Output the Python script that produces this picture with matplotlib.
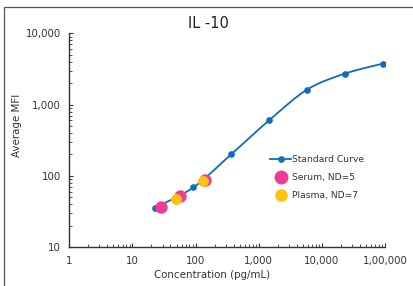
import numpy as np
import matplotlib
matplotlib.use("Agg")
import matplotlib.pyplot as plt
from matplotlib.path import Path
from matplotlib.patches import PathPatch, Rectangle
from matplotlib.lines import Line2D
from matplotlib.ticker import FixedLocator, FixedFormatter, LogLocator, NullFormatter

# Data
std_conc = [23, 92, 366, 1465, 5860, 23440, 93750]
std_mfi = [36, 69, 201, 604, 1629, 2730, 3770]
serum_conc = [28.4, 56.8, 141]
serum_mfi = [36.7, 51.9, 87.1]
plasma_conc = [49.1, 133]
plasma_mfi = [47.6, 85.9]
x_ticks = [1, 10, 100, 1000, 10000, 100000]
x_labels = ["1", "10", "100", "1,000", "10,000", "1,00,000"]
y_ticks = [10, 100, 1000, 10000]
y_labels = ["10", "100", "1,000", "10,000"]

blue = "#0F6CBD"
pink = "#EC3C97"
gold = "#FFC20E"
fs = 7.4
lfs = 6.6

fig = plt.figure(figsize=(4.13, 2.86), dpi=100)
W, H = 413, 286
fig.patches.append(Rectangle((4 / W, -0.1), 1.2, 1 - 7 / H + 0.1, transform=fig.transFigure,
                             fill=False, edgecolor="#555555", linewidth=0.9))
ax = fig.add_axes([69.3 / W, 1 - 247.3 / H, (385 - 69.3) / W, (247.3 - 33.3) / H])
ax.set_xscale("log")
ax.set_yscale("log")
ax.set_xlim(1, 100000)
ax.set_ylim(10, 10000)

# Smooth curve (Catmull-Rom in log space -> cubic Bezier)
lx = np.log10(std_conc)
ly = np.log10(std_mfi)
n = len(lx)
verts = [(std_conc[0], std_mfi[0])]
codes = [Path.MOVETO]
for i in range(n - 1):
    p0 = np.array([lx[max(i - 1, 0)], ly[max(i - 1, 0)]])
    p1 = np.array([lx[i], ly[i]])
    p2 = np.array([lx[i + 1], ly[i + 1]])
    p3 = np.array([lx[min(i + 2, n - 1)], ly[min(i + 2, n - 1)]])
    c1 = p1 + (p2 - p0) / 6.0
    c2 = p2 - (p3 - p1) / 6.0
    for c in (c1, c2, p2):
        verts.append((10 ** c[0], 10 ** c[1]))
        codes.append(Path.CURVE4)
ax.add_patch(PathPatch(Path(verts, codes), fill=False, edgecolor=blue, linewidth=1.3, zorder=2))
ax.plot(std_conc, std_mfi, linestyle="none", marker="o", markersize=3.8, color=blue, zorder=3)

ax.scatter(serum_conc, serum_mfi, s=80, color=pink, zorder=4, linewidths=0)
ax.scatter(plasma_conc, plasma_mfi, s=62, color=gold, zorder=5, linewidths=0)

ax.xaxis.set_major_locator(FixedLocator(x_ticks))
ax.xaxis.set_major_formatter(FixedFormatter(x_labels))
ax.yaxis.set_major_locator(FixedLocator(y_ticks))
ax.yaxis.set_major_formatter(FixedFormatter(y_labels))
ax.xaxis.set_minor_locator(LogLocator(base=10, subs=np.arange(2, 10)))
ax.yaxis.set_minor_locator(LogLocator(base=10, subs=np.arange(2, 10)))
ax.xaxis.set_minor_formatter(NullFormatter())
ax.yaxis.set_minor_formatter(NullFormatter())
ax.tick_params(which="major", direction="in", length=3, width=0.8, color="#333333",
               labelsize=fs, labelcolor="#333333", pad=6)
ax.tick_params(which="minor", direction="in", length=2, width=0.6, color="#333333")
for s in ("top", "right"):
    ax.spines[s].set_visible(False)
for s in ("left", "bottom"):
    ax.spines[s].set_color("#333333")
    ax.spines[s].set_linewidth(1.0)

ax.set_xlabel("Concentration (pg/mL)", fontsize=fs, color="#333333", labelpad=2)
ax.xaxis.set_label_coords(0.451, -0.105)
ax.set_ylabel("Average MFI", fontsize=fs, color="#333333")
ax.yaxis.set_label_coords(-0.15, 0.571)
fig.text(208.5 / W, 1 - 24 / H, "IL -10", fontsize=10.5, color="#222222", ha="center", va="center")

handles = [
    Line2D([], [], color=blue, linewidth=1.3, marker="o", markersize=3.8),
    Line2D([], [], linestyle="none", marker="o", markersize=9, color=pink),
    Line2D([], [], linestyle="none", marker="o", markersize=8, color=gold),
]
labels = ["Standard Curve", "Serum, ND=5", "Plasma, ND=7"]
leg = fig.legend(handles, labels, loc="upper left", bbox_to_anchor=(270 / W, 1 - 155 / H),
                 frameon=False, fontsize=lfs, handlelength=2.3, handletextpad=0.12,
                 labelspacing=0.98, borderaxespad=0, borderpad=0)
for t in leg.get_texts():
    t.set_color("#333333")

fig.savefig("out.png", dpi=100)
